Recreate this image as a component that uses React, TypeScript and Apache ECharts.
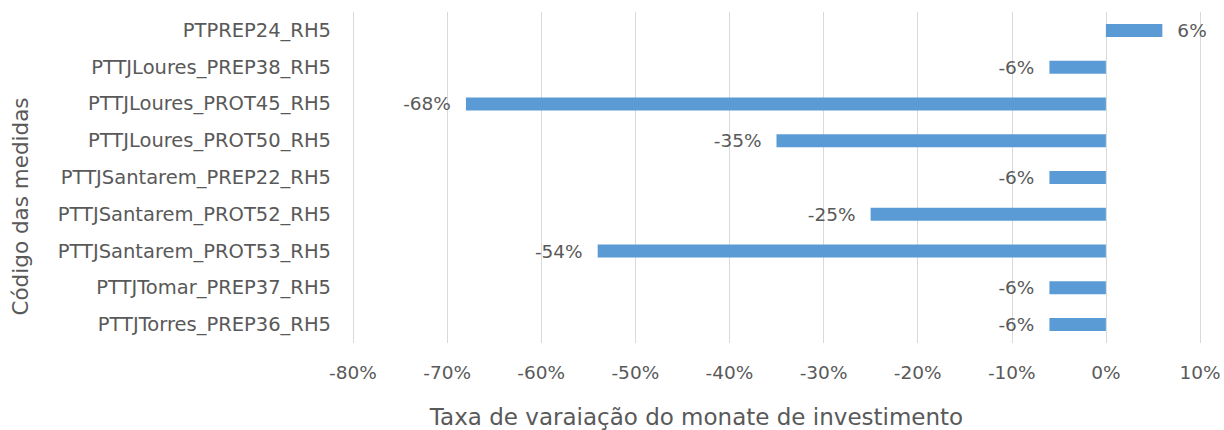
import React, { useEffect, useRef } from "react";
import * as echarts from "echarts";

const categories = [
  "PTPREP24_RH5",
  "PTTJLoures_PREP38_RH5",
  "PTTJLoures_PROT45_RH5",
  "PTTJLoures_PROT50_RH5",
  "PTTJSantarem_PREP22_RH5",
  "PTTJSantarem_PROT52_RH5",
  "PTTJSantarem_PROT53_RH5",
  "PTTJTomar_PREP37_RH5",
  "PTTJTorres_PREP36_RH5",
];
const values = [6, -6, -68, -35, -6, -25, -54, -6, -6];
const xTicks = { min: -80, max: 10, interval: 10 };

const FONT = "'DejaVu Sans', 'Open Sans', sans-serif";
const TXT = "#595959";

export default function App() {
  const ref = useRef<HTMLDivElement>(null);
  useEffect(() => {
    if (!ref.current) return;
    const chart = echarts.init(ref.current, undefined, { renderer: "svg" });
    chart.setOption({
      animation: false,
      grid: {
        left: 353,
        right: 24,
        top: 12,
        bottom: 87,
        containLabel: false,
        outerBoundsMode: "none",
      },
      xAxis: {
        type: "value",
        min: xTicks.min,
        max: xTicks.max,
        interval: xTicks.interval,
        axisLine: { show: false },
        axisTick: { show: false },
        splitLine: { show: true, lineStyle: { color: "#d9d9d9", width: 1 } },
        axisLabel: {
          formatter: (v: number) => `${v}%`,
          color: TXT,
          fontFamily: FONT,
          fontSize: 18.5,
          margin: 20,
        },
        name: "Taxa de varaiação do monate de investimento",
        nameLocation: "middle",
        nameGap: 62,
        nameTextStyle: {
          color: TXT,
          fontFamily: FONT,
          fontSize: 23,
          padding: [0, 160, 0, 0],
        },
      },
      yAxis: {
        type: "category",
        data: categories,
        inverse: true,
        axisLine: { show: false },
        axisTick: { show: false },
        axisLabel: { color: TXT, fontFamily: FONT, fontSize: 19.5, margin: 22 },
        name: "Código das medidas",
        nameLocation: "middle",
        nameGap: 322,
        nameRotate: 90,
        nameTextStyle: {
          color: TXT,
          fontFamily: FONT,
          fontSize: 21.5,
          padding: [0, 58, 0, 0],
        },
      },
      series: [
        {
          type: "bar",
          data: values.map((v) => ({
            value: v,
            label: { position: v < 0 ? "left" : "right" },
          })),
          barWidth: 13,
          itemStyle: { color: "#5b9bd5" },
          label: {
            show: true,
            formatter: (p: any) => `${p.value}%`,
            color: TXT,
            fontFamily: FONT,
            fontSize: 18.5,
            distance: 15,
          },
        },
      ],
    });
    return () => chart.dispose();
  }, []);
  return (
    <div
      ref={ref}
      style={{ position: "absolute", left: 0, top: 0, width: 1224, height: 430 }}
    />
  );
}
